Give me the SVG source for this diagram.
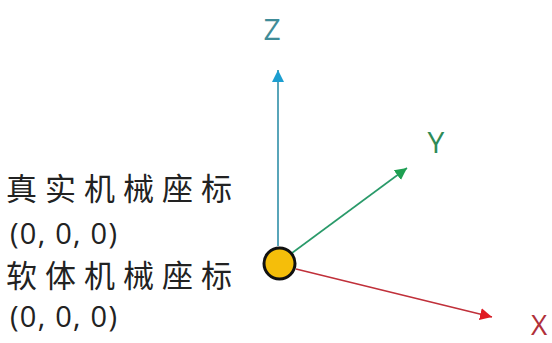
<svg xmlns="http://www.w3.org/2000/svg" width="552" height="343" viewBox="0 0 552 343">
<style>
.lbl{font-family:"Open Sans","Liberation Sans",sans-serif;font-size:30px;text-anchor:middle}
.cn{font-family:"Noto Sans CJK SC",sans-serif;font-size:31px;fill:#222}
.num{font-family:"Open Sans","Liberation Sans",sans-serif;font-size:29px;fill:#222}
.ax{fill:none;stroke-width:1.6}
</style>
<defs>
<marker id="az" markerUnits="userSpaceOnUse" markerWidth="14" markerHeight="14" refX="12" refY="7" orient="auto"><path d="M0,1 L12,7 L0,13 Z" fill="#1c9ed0"/></marker>
<marker id="ay" markerUnits="userSpaceOnUse" markerWidth="14" markerHeight="14" refX="12" refY="7" orient="auto"><path d="M0,1 L12,7 L0,13 Z" fill="#1fa052"/></marker>
<marker id="axr" markerUnits="userSpaceOnUse" markerWidth="14" markerHeight="14" refX="12" refY="7" orient="auto"><path d="M0,1 L12,7 L0,13 Z" fill="#e01a22"/></marker>
</defs>
<rect width="552" height="343" fill="#fff"/>
<g id="connectors">
<line class="ax" x1="278" y1="246" x2="278" y2="70" stroke="#2f8fa8" marker-end="url(#az)"/>
<line class="ax" x1="292" y1="253" x2="407" y2="168" stroke="#2a9a6a" marker-end="url(#ay)"/>
<line class="ax" x1="296" y1="269" x2="492" y2="317" stroke="#c0303a" marker-end="url(#axr)"/>
</g>
<g id="origin">
<circle cx="279.5" cy="263.5" r="15.5" fill="#f5be0a" stroke="#111" stroke-width="3"/>
</g>
<g id="label-z"><text class="lbl" x="272" y="40" fill="#3f8c98">Z</text></g>
<g id="label-y"><text class="lbl" x="436" y="153" fill="#2e8b57">Y</text></g>
<g id="label-x"><text class="lbl" x="539" y="335" fill="#b0303a" style="font-size:28px">X</text></g>
<g id="coords">
<text class="cn" x="6" y="200" textLength="226" lengthAdjust="spacing">真实机械座标</text>
<text class="num" x="10" y="244" textLength="107" lengthAdjust="spacing">(0, 0, 0)</text>
<text class="cn" x="6" y="287" textLength="226" lengthAdjust="spacing">软体机械座标</text>
<text class="num" x="10" y="327" textLength="107" lengthAdjust="spacing">(0, 0, 0)</text>
</g>
</svg>
